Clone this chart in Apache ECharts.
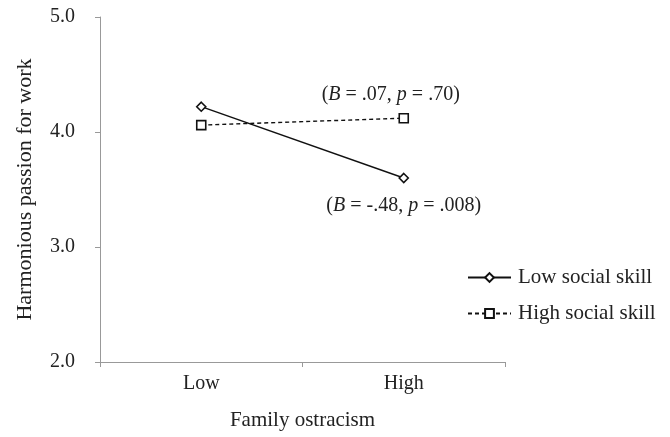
<!DOCTYPE html>
<html><head><meta charset="utf-8">
<script src="https://cdn.jsdelivr.net/npm/echarts@6/dist/echarts.min.js"></script>
<style>html,body{margin:0;padding:0;background:#fff}#c{width:670px;height:437px}</style>
</head><body><div id="c"></div>
<script>
var categories = ['Low', 'High'];
var lowSkill = [4.22, 3.60];
var highSkill = [4.06, 4.12];
var yTicks = [2, 3, 4, 5];
var seriesNames = ['Low social skill', 'High social skill'];
var annoHigh = '({i|B} = .07, {i|p} = .70)';
var annoLow = '({i|B} = -.48, {i|p} = .008)';

var FONT = '"Liberation Serif", "Times New Roman", serif';
var TXT = '#222';
var rich = { i: { fontStyle: 'italic', fontFamily: FONT, fontSize: 20, color: TXT } };

var chart = echarts.init(document.getElementById('c'));
chart.setOption({
  animation: false,
  backgroundColor: '#fff',
  textStyle: { fontFamily: FONT, color: TXT },
  grid: { left: 100, right: 165, top: 17, bottom: 75, containLabel: false },
  legend: {
    orient: 'vertical', left: 462, top: 262,
    itemWidth: 43, itemHeight: 11, itemGap: 15,
    textStyle: { fontFamily: FONT, fontSize: 21, color: TXT, padding: [0, 0, 0, 2] },
    data: seriesNames
  },
  xAxis: {
    type: 'category', data: categories, boundaryGap: true,
    name: 'Family ostracism', nameLocation: 'middle', nameGap: 48,
    nameTextStyle: { fontFamily: FONT, fontSize: 21, color: TXT },
    axisLine: { lineStyle: { color: '#999', width: 1 } },
    axisTick: { show: true, alignWithLabel: false, length: 5, lineStyle: { color: '#999' } },
    axisLabel: { fontFamily: FONT, fontSize: 20, color: TXT, margin: 12 }
  },
  yAxis: {
    type: 'value', min: yTicks[0], max: yTicks[yTicks.length - 1], interval: 1,
    name: 'Harmonious passion for work', nameLocation: 'middle', nameGap: 64,
    nameTextStyle: { fontFamily: FONT, fontSize: 22, color: TXT },
    axisLine: { show: true, lineStyle: { color: '#999', width: 1 } },
    axisTick: { show: true, length: 5, lineStyle: { color: '#999' } },
    splitLine: { show: false },
    axisLabel: { fontFamily: FONT, fontSize: 20, color: TXT, margin: 25,
      formatter: function (v) { return v.toFixed(1); } }
  },
  series: [
    {
      name: seriesNames[0], type: 'line', data: lowSkill,
      symbol: 'diamond', symbolSize: 9, showAllSymbol: true,
      lineStyle: { color: '#111', width: 1.4, type: 'solid' },
      itemStyle: { color: '#fff', borderColor: '#111', borderWidth: 1.6 },
      label: {
        show: true, position: 'bottom', distance: 12, offset: [0, 0],
        formatter: function (p) { return p.dataIndex === 1 ? annoLow : ''; },
        fontFamily: FONT, fontSize: 20, color: TXT, rich: rich
      }
    },
    {
      name: seriesNames[1], type: 'line', data: highSkill,
      symbol: 'rect', symbolSize: 9, showAllSymbol: true,
      lineStyle: { color: '#111', width: 1.4, type: [4, 3] },
      itemStyle: { color: '#fff', borderColor: '#111', borderWidth: 1.6 },
      label: {
        show: true, position: 'top', distance: 8, offset: [-13, 0],
        formatter: function (p) { return p.dataIndex === 1 ? annoHigh : ''; },
        fontFamily: FONT, fontSize: 20, color: TXT, rich: rich
      }
    }
  ]
});
</script></body></html>
